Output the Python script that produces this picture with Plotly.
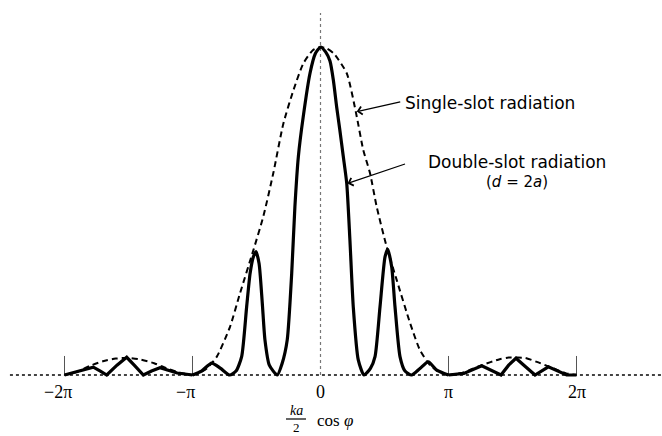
import plotly.graph_objects as go

# ---- data (x in units of pi, y relative intensity) ----
tick_vals = [-2, -1, 0, 1, 2]
tick_text = ["\u22122\u03c0", "\u2212\u03c0", "0", "\u03c0", "2\u03c0"]

single_main_x = [-1.0, -0.95, -0.889, -0.81, -0.707, -0.629, -0.525, -0.447, -0.369, -0.29, -0.21, -0.134, -0.06, 0.0,
                 0.05, 0.104, 0.205, 0.277, 0.334, 0.387, 0.439, 0.517, 0.595, 0.70, 0.777, 0.855, 0.93, 1.0]
single_main_y = [0.0, 0.006, 0.02, 0.056, 0.147, 0.249, 0.38, 0.483, 0.615, 0.767, 0.87, 0.95, 0.99, 1.0,
                 0.995, 0.98, 0.92, 0.80, 0.686, 0.615, 0.513, 0.391, 0.29, 0.158, 0.076, 0.03, 0.008, 0.0]
single_left_x = [-2.0, -1.9, -1.8, -1.7, -1.6, -1.514, -1.42, -1.3, -1.2, -1.1, -1.0]
single_left_y = [0.0, 0.01, 0.028, 0.042, 0.05, 0.052, 0.048, 0.036, 0.02, 0.007, 0.0]
single_right_x = [1.0, 1.12, 1.26, 1.40, 1.47, 1.53, 1.60, 1.69, 1.82, 1.92, 2.0]
single_right_y = [0.0, 0.008, 0.03, 0.048, 0.053, 0.053, 0.052, 0.04, 0.02, 0.005, 0.0]

double_main_x = [-1.0, -0.93, -0.85, -0.78, -0.71, -0.66, -0.616, -0.577, -0.55, -0.525, -0.504, -0.48, -0.455, -0.434,
                 -0.40, -0.338, -0.30, -0.26, -0.225, -0.2, -0.173, -0.134, -0.082, -0.04, 0.0, 0.04, 0.074, 0.10,
                 0.126, 0.15, 0.178, 0.205, 0.23, 0.256, 0.295, 0.34, 0.39, 0.426, 0.465, 0.504, 0.525, 0.556,
                 0.582, 0.621, 0.66, 0.712, 0.777, 0.842, 0.908, 1.0]
double_main_y = [0.0, 0.012, 0.036, 0.02, 0.0, 0.012, 0.056, 0.208, 0.31, 0.36, 0.376, 0.34, 0.22, 0.107,
                 0.03, 0.0, 0.035, 0.107, 0.31, 0.513, 0.666, 0.79, 0.92, 0.98, 1.0, 0.985, 0.957, 0.90,
                 0.818, 0.75, 0.666, 0.584, 0.41, 0.208, 0.046, 0.0, 0.02, 0.056, 0.208, 0.36, 0.383, 0.33,
                 0.208, 0.056, 0.012, 0.0, 0.02, 0.04, 0.015, 0.0]
double_left_x = [-2.0, -1.94, -1.86, -1.775, -1.72, -1.67, -1.59, -1.514, -1.45, -1.384, -1.32, -1.254, -1.12, -1.0]
double_left_y = [0.0, 0.006, 0.016, 0.024, 0.012, 0.0, 0.03, 0.054, 0.028, 0.0, 0.012, 0.022, 0.006, 0.0]
double_right_x = [1.0, 1.12, 1.26, 1.33, 1.41, 1.47, 1.527, 1.60, 1.676, 1.78, 1.86, 1.923, 2.0]
double_right_y = [0.0, 0.005, 0.028, 0.014, 0.0, 0.03, 0.051, 0.026, 0.0, 0.025, 0.012, 0.0, 0.0]

fig = go.Figure()

dash_style = dict(color="black", width=2, dash="6px,4px")
for xs, ys in [(single_left_x, single_left_y), (single_main_x, single_main_y), (single_right_x, single_right_y)]:
    fig.add_trace(go.Scatter(x=xs, y=ys, mode="lines", line=dict(shape="spline", smoothing=0.6, **dash_style),
                             hoverinfo="skip", showlegend=False))

solid_style = dict(color="black", width=3.2)
for xs, ys, shp in [(double_left_x, double_left_y, "linear"),
                    (double_main_x, double_main_y, "spline"),
                    (double_right_x, double_right_y, "linear")]:
    fig.add_trace(go.Scatter(x=xs, y=ys, mode="lines", line=dict(shape=shp, smoothing=0.6, **solid_style),
                             hoverinfo="skip", showlegend=False))

W, H = 662, 436

shapes = []
# baseline
shapes.append(dict(type="line", xref="paper", yref="y", x0=0.015, x1=1.0, y0=0, y1=0,
                   line=dict(color="#444", width=2, dash="dot"), layer="below"))
# guide lines at ticks
for tv in tick_vals:
    if tv == 0:
        shapes.append(dict(type="line", xref="x", yref="y", x0=tv, x1=tv, y0=0, y1=1.104,
                           line=dict(color="#777", width=1.2, dash="dot"), layer="below"))
    else:
        shapes.append(dict(type="line", xref="x", yref="y", x0=tv, x1=tv, y0=0, y1=0.058,
                           line=dict(color="#555", width=1), layer="below"))
# fraction bar of axis title
shapes.append(dict(type="line", xref="paper", yref="paper", x0=286 / W, x1=306 / W,
                   y0=1 - 419 / H, y1=1 - 419 / H, line=dict(color="black", width=1.2)))

annotations = []
for tv, tt in zip(tick_vals, tick_text):
    annotations.append(dict(x=tv, y=-0.052, xref="x", yref="y", text=tt, showarrow=False,
                            xshift=-7 if tt.startswith("\u2212") else 0,
                            font=dict(family="Liberation Serif", size=18, color="black"),
                            xanchor="center", yanchor="middle"))

# axis title: (ka / 2) cos phi  (positions in pixels, converted below)
title_parts = [dict(x=296, y=410, text="<i>ka</i>", size=14),
               dict(x=296, y=427, text="2", size=13),
               dict(x=335, y=420, text="cos <i>\u03c6</i>", size=17)]
for p in title_parts:
    annotations.append(dict(x=p["x"] / W, y=1 - p["y"] / H, xref="paper", yref="paper", text=p["text"],
                            showarrow=False, font=dict(family="Liberation Serif", size=p["size"], color="black"),
                            xanchor="center", yanchor="middle"))

labels = [dict(x=490, y=103, text="Single-slot radiation", size=17),
          dict(x=517, y=162, text="Double-slot radiation", size=17),
          dict(x=517, y=182, text="(<i>d</i> = 2<i>a</i>)", size=15)]
for p in labels:
    annotations.append(dict(x=p["x"] / W, y=1 - p["y"] / H, xref="paper", yref="paper", text=p["text"],
                            showarrow=False, font=dict(family="DejaVu Sans", size=p["size"], color="black"),
                            xanchor="center", yanchor="middle"))

# arrows
annotations.append(dict(x=0.283, y=0.803, xref="x", yref="y", text="", showarrow=True, ax=45, ay=-10,
                        arrowhead=4, arrowsize=1.3, arrowwidth=1.2, arrowcolor="black", standoff=0))
annotations.append(dict(x=0.211, y=0.584, xref="x", yref="y", text="", showarrow=True, ax=59, ay=-20,
                        arrowhead=4, arrowsize=1.3, arrowwidth=1.2, arrowcolor="black", standoff=0))

fig.update_layout(
    width=W, height=H,
    margin=dict(l=0, r=0, t=0, b=0),
    plot_bgcolor="white", paper_bgcolor="white",
    xaxis=dict(range=[-2.504, 2.668], visible=False, fixedrange=True),
    yaxis=dict(range=[-0.186, 1.1433], visible=False, fixedrange=True),
    shapes=shapes, annotations=annotations,
    showlegend=False,
)

fig.write_html("out.html", config={"displayModeBar": False},
               post_script="document.body.style.margin='0';document.body.style.padding='0';")
